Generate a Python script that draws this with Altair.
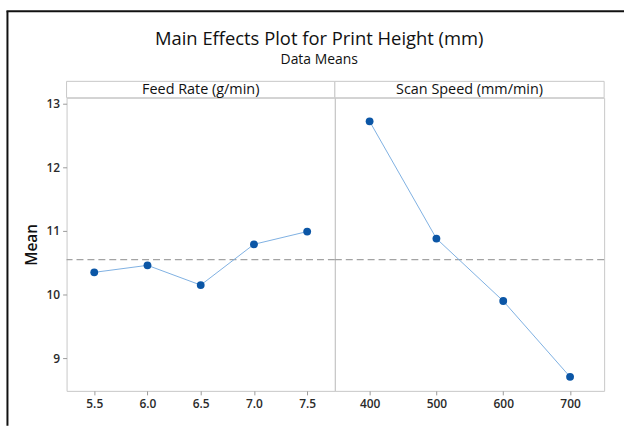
import altair as alt
import pandas as pd

# ---- data ----
feed_rate = [5.5, 6.0, 6.5, 7.0, 7.5]
feed_mean = [10.35, 10.46, 10.15, 10.79, 10.99]
scan_speed = [400, 500, 600, 700]
scan_mean = [12.72, 10.88, 9.90, 8.71]
grand_mean = [10.55]
y_ticks = [9, 10, 11, 12, 13]

FONT = "Open Sans"
W1, W2, H = 270, 271, 295
HDR = 16.5
Y_DOMAIN = [8.49, 13.09]
FRAME = "#c8c8c8"
LINE_C = "#7fb0e2"
PT_C = "#0b56a6"
LABEL_C = "#2a2a2a"

one = pd.DataFrame({"a": [0]})


def panel(xvals, yvals, domain, header, width, fmt, show_y):
    df = pd.DataFrame({"x": xvals, "y": yvals})
    if show_y:
        yaxis = alt.Axis(values=y_ticks, format="d", title="Mean", domain=False,
                         grid=False, tickColor="#9a9a9a", tickSize=4,
                         labelFontSize=12, labelFontWeight=600,
                         labelColor=LABEL_C, labelFont=FONT,
                         labelPadding=3, titleFont=FONT, titleFontSize=15.5,
                         titleFontWeight=600, titleColor="#111111", titlePadding=7)
    else:
        yaxis = alt.Axis(values=y_ticks, title=None, labels=False, ticks=False,
                         domain=False, grid=False)
    x = alt.X("x:Q", scale=alt.Scale(domain=domain, nice=False, zero=False),
              axis=alt.Axis(values=xvals, format=fmt, title=None, domain=False,
                            grid=False, tickColor="#9a9a9a", tickSize=4,
                            labelFontSize=12, labelFontWeight=600,
                            labelColor=LABEL_C, labelFont=FONT, labelPadding=4))
    y = alt.Y("y:Q", scale=alt.Scale(domain=Y_DOMAIN, nice=False, zero=False),
              axis=yaxis)
    base = alt.Chart(df).encode(x=x, y=y)
    line = base.mark_line(color=LINE_C, strokeWidth=1)
    pts = base.mark_circle(color=PT_C, size=62, opacity=1)
    mean = alt.Chart(pd.DataFrame({"y": grand_mean})).mark_rule(
        color="#a3a3a3", strokeDash=[7, 4], strokeWidth=1.3
    ).encode(y=alt.Y("y:Q"))
    hbox = alt.Chart(one).mark_rect(fill="white", stroke=FRAME, strokeWidth=1).encode(
        x=alt.value(0), x2=alt.value(width), y=alt.value(-HDR), y2=alt.value(0))
    htxt = alt.Chart(one).mark_text(text=header, font=FONT, fontSize=14.5,
                                    color="#111111", baseline="middle").encode(
        x=alt.value(width / 2), y=alt.value(-HDR / 2))
    layers = [mean, line, pts, hbox, htxt]
    if show_y:
        border_v = alt.Chart(one).mark_rule(color="#111111", strokeWidth=2).encode(
            x=alt.value(-59.5), y=alt.value(-87), y2=alt.value(330))
        border_h = alt.Chart(one).mark_rule(color="#111111", strokeWidth=2).encode(
            x=alt.value(-60.5), x2=alt.value(561), y=alt.value(-87))
        layers += [border_v, border_h]
    return alt.layer(*layers).properties(width=width, height=H)


left = panel(feed_rate, feed_mean, [5.24, 7.76], "Feed Rate (g/min)", W1, ".1f", True)
right = panel(scan_speed, scan_mean, [348, 751], "Scan Speed (mm/min)", W2, "d", False)

chart = alt.hconcat(left, right, spacing=0, bounds="flush").properties(
    title=alt.TitleParams(
        "Main Effects Plot for Print Height (mm)", subtitle="Data Means",
        font=FONT, subtitleFont=FONT, fontSize=18.5, subtitleFontSize=14,
        fontWeight=500, color="#111111", subtitleColor="#111111",
        anchor="middle", offset=-58, dx=4, subtitlePadding=5),
    padding={"left": 5, "top": 8, "right": 0, "bottom": 0},
    background="white",
).configure_view(stroke=FRAME, strokeWidth=1)

chart.save("out.html", embed_options={"renderer": "svg", "actions": False})
